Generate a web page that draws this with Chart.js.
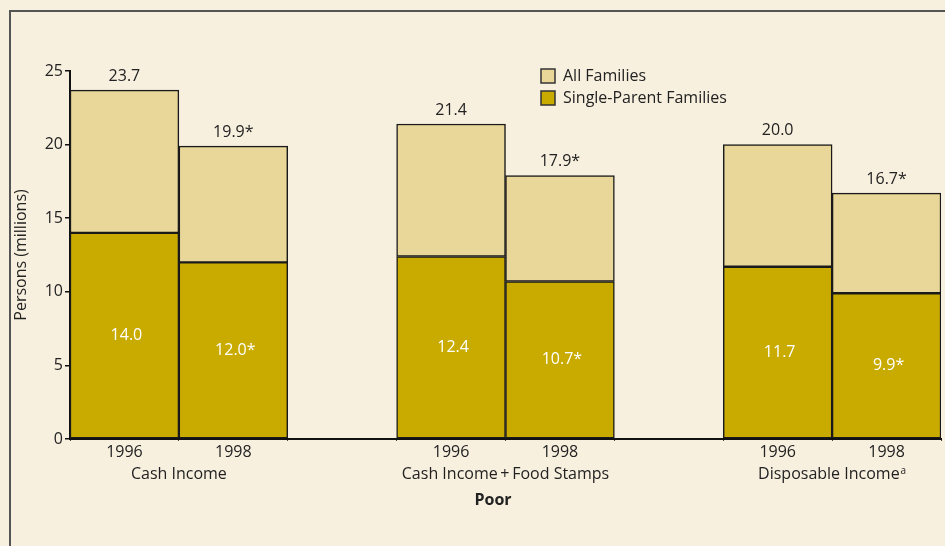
<!DOCTYPE html>
<html>
<head>
<meta charset="utf-8">
<script src="https://cdn.jsdelivr.net/npm/chart.js@4"></script>
<style>
  html, body { margin: 0; padding: 0; background: #f8f0df; }
  #wrap { position: relative; width: 945px; height: 546px; overflow: hidden; }
  #frame { position: absolute; left: 9px; top: 10px; width: 1000px; height: 600px;
           border-top: 2px solid #555; border-left: 2px solid #555; }
  canvas { position: absolute; left: 0; top: 0; }
</style>
</head>
<body>
<div id="wrap">
  <div id="frame"></div>
  <canvas id="chart" width="945" height="546"></canvas>
</div>
<script>
// slots: two bars per income measure, an empty slot between groups
const years = ['1996', '1998', '', '1996', '1998', '', '1996', '1998'];
const groups = ['Cash Income', 'Cash Income\u2009+\u2009Food Stamps', 'Disposable Income'];
const groupSup = ['', '', 'a'];
const allFamilies = [23.7, 19.9, null, 21.4, 17.9, null, 20.0, 16.7];
const singleParent = [14.0, 12.0, null, 12.4, 10.7, null, 11.7, 9.9];
const allStars = [false, true, false, false, true, false, false, true];
const singleStars = [false, true, false, false, true, false, false, true];

const FONT = "'Open Sans', 'Noto Sans', sans-serif";
const FS = 16;
const TEXT = '#222';
const LIGHT = '#e9d799';
const DARK = '#c9ab00';

// top segment of each stack = all families minus single-parent
const restOfFamilies = allFamilies.map((v, i) => v == null ? null : +(v - singleParent[i]).toFixed(1));

const valueLabels = {
  id: 'valueLabels',
  afterDatasetsDraw(chart) {
    const ctx = chart.ctx;
    ctx.save();
    ctx.font = FS + 'px ' + FONT;
    ctx.textAlign = 'center';
    ctx.textBaseline = 'middle';
    chart.getDatasetMeta(1).data.forEach((bar, i) => {
      if (allFamilies[i] == null) return;
      ctx.fillStyle = TEXT;
      ctx.fillText(allFamilies[i].toFixed(1) + (allStars[i] ? '*' : ''), bar.x, bar.y - 14);
    });
    chart.getDatasetMeta(0).data.forEach((bar, i) => {
      if (singleParent[i] == null) return;
      ctx.fillStyle = '#ffffff';
      ctx.fillText(singleParent[i].toFixed(1) + (singleStars[i] ? '*' : ''), bar.x + 2, (bar.y + bar.base) / 2);
    });
    ctx.restore();
  }
};

const groupLabels = {
  id: 'groupLabels',
  afterDraw(chart) {
    const ctx = chart.ctx;
    const x = chart.scales.x;
    ctx.save();
    ctx.fillStyle = TEXT;
    ctx.textBaseline = 'middle';
    ctx.textAlign = 'left';
    groups.forEach((g, k) => {
      const cx = (x.getPixelForValue(k * 3) + x.getPixelForValue(k * 3 + 1)) / 2;
      ctx.font = FS + 'px ' + FONT;
      const w1 = ctx.measureText(g).width;
      ctx.font = '10px ' + FONT;
      const w2 = groupSup[k] ? ctx.measureText(groupSup[k]).width + 1 : 0;
      const start = cx - (w1 + w2) / 2;
      ctx.font = FS + 'px ' + FONT;
      ctx.fillText(g, start, 474);
      if (groupSup[k]) {
        ctx.font = '10px ' + FONT;
        ctx.fillText(groupSup[k], start + w1 + 1, 471);
      }
    });

    ctx.font = 'bold ' + FS + 'px ' + FONT;
    ctx.textAlign = 'center';
    ctx.fillText('Poor', 493, 500);

    // legend, listed top to bottom as in the figure
    const items = [chart.data.datasets[1], chart.data.datasets[0]];
    items.forEach((ds, k) => {
      const by = 69 + k * 22;
      ctx.fillStyle = ds.backgroundColor;
      ctx.fillRect(541, by, 14, 14);
      ctx.strokeStyle = '#333';
      ctx.lineWidth = 1.5;
      ctx.strokeRect(541, by, 14, 14);
      ctx.fillStyle = TEXT;
      ctx.font = FS + 'px ' + FONT;
      ctx.textAlign = 'left';
      ctx.fillText(ds.label, 563, by + 7);
    });
    ctx.restore();
  }
};

new Chart(document.getElementById('chart').getContext('2d'), {
  type: 'bar',
  data: {
    labels: years,
    datasets: [{
      label: 'Single-Parent Families',
      data: singleParent,
      backgroundColor: DARK,
      borderColor: '#1a1a1a',
      borderWidth: 1.5,
      borderSkipped: false
    }, {
      label: 'All Families',
      data: restOfFamilies,
      backgroundColor: LIGHT,
      borderColor: '#1a1a1a',
      borderWidth: 1.5,
      borderSkipped: false
    }]
  },
  options: {
    responsive: false,
    animation: false,
    devicePixelRatio: 1,
    categoryPercentage: 1,
    barPercentage: 1,
    layout: { padding: { top: 71, right: 4, left: 0, bottom: 0 } },
    plugins: {
      legend: { display: false },
      tooltip: { enabled: false }
    },
    scales: {
      x: {
        stacked: true,
        afterFit(scale) { scale.height = 107; },
        grid: { drawOnChartArea: false, tickLength: 2, color: '#444' },
        border: { color: '#111', width: 2 },
        ticks: { color: TEXT, font: { family: FONT, size: FS }, padding: 2, maxRotation: 0, autoSkip: false }
      },
      y: {
        stacked: true,
        min: 0,
        max: 25,
        afterFit(scale) { scale.width = 70; },
        afterBuildTicks(scale) { scale.ticks = [0, 5, 10, 15, 20, 25].map(v => ({ value: v })); },
        grid: { drawOnChartArea: false, tickLength: 5, color: '#111', lineWidth: 1.5 },
        border: { color: '#111', width: 2 },
        ticks: { color: TEXT, font: { family: FONT, size: FS }, padding: 2 },
        title: {
          display: true,
          text: 'Persons (millions)',
          color: TEXT,
          font: { family: FONT, size: FS },
          padding: { top: 12 }
        }
      }
    }
  },
  plugins: [valueLabels, groupLabels]
});
</script>
</body>
</html>
